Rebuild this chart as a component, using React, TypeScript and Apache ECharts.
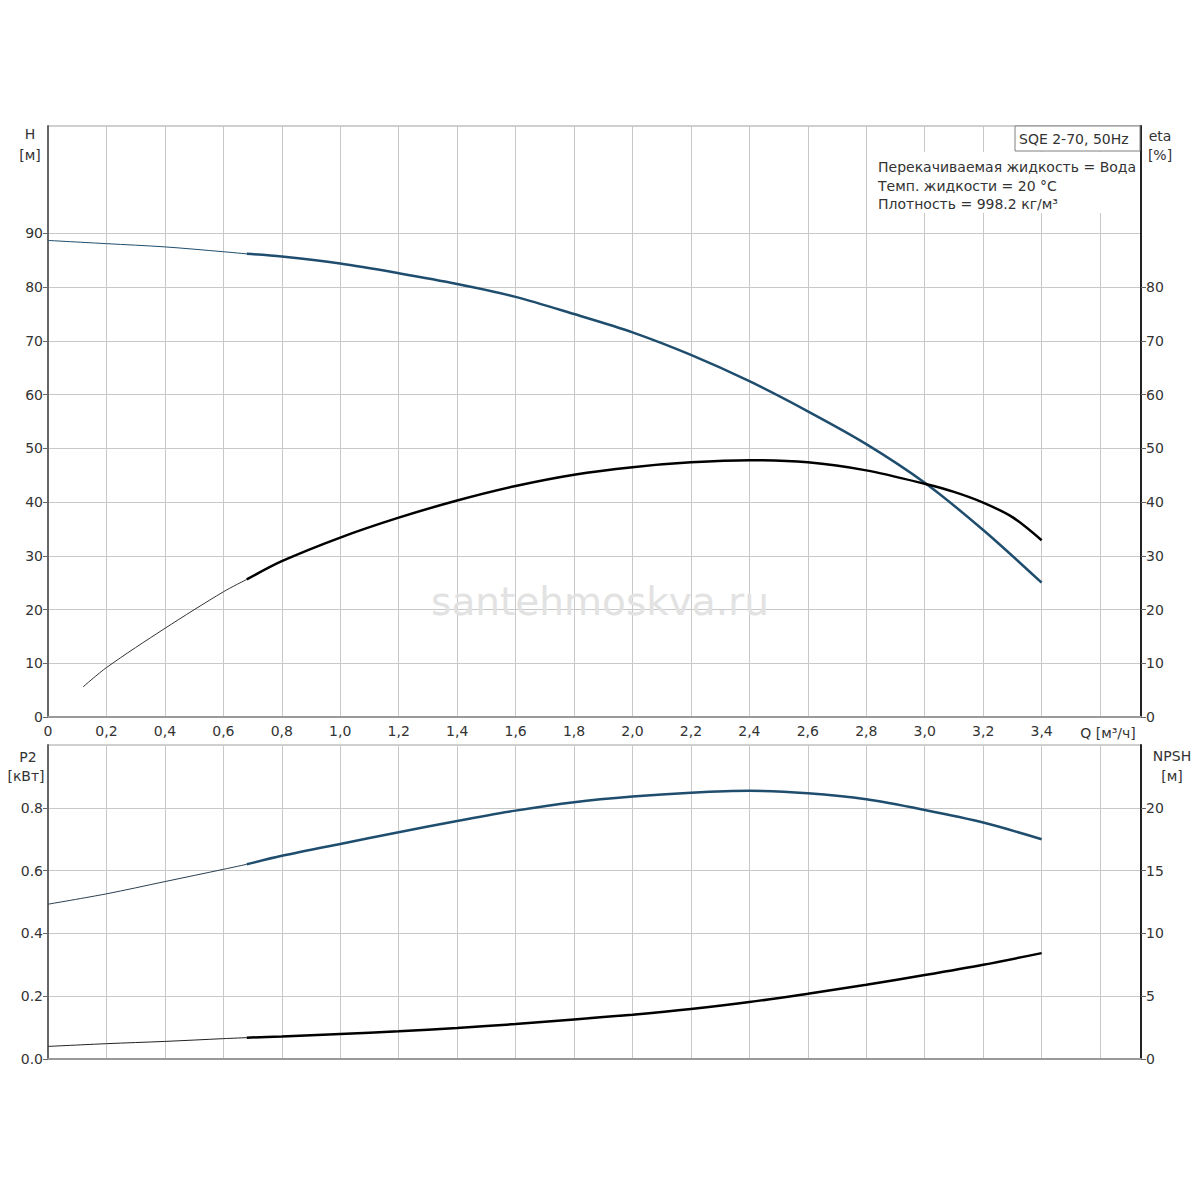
import React, { useEffect, useRef } from "react";
import * as echarts from "echarts";

// Q axis ticks
const qTicks = [0, 0.2, 0.4, 0.6, 0.8, 1.0, 1.2, 1.4, 1.6, 1.8, 2.0, 2.2, 2.4, 2.6, 2.8, 3.0, 3.2, 3.4];

// H curve (m)
const qHThin = [0, 0.2, 0.4, 0.6, 0.68];
const hThin = [88.7, 88.1, 87.5, 86.6, 86.2];
const qHMain = [0.68, 0.8, 1.0, 1.2, 1.4, 1.6, 1.8, 2.0, 2.2, 2.4, 2.6, 2.8, 3.0, 3.2, 3.4];
const hMain = [86.2, 85.7, 84.4, 82.6, 80.6, 78.2, 75.0, 71.6, 67.4, 62.5, 56.9, 50.8, 43.6, 34.8, 25.0];

// eta curve (%)
const qEtaThin = [0.12, 0.2, 0.4, 0.6, 0.68];
const etaThin = [5.6, 9.2, 16.5, 23.3, 25.6];
const qEtaMain = [0.68, 0.8, 1.0, 1.2, 1.4, 1.6, 1.8, 2.0, 2.2, 2.4, 2.6, 2.8, 3.0, 3.1, 3.2, 3.3, 3.4];
const etaMain = [25.6, 29.0, 33.4, 37.1, 40.3, 43.0, 45.1, 46.5, 47.4, 47.8, 47.4, 45.9, 43.4, 41.9, 39.9, 37.2, 32.9];

// P2 curve (kW)
const qP2Thin = [0, 0.2, 0.4, 0.6, 0.68];
const p2Thin = [0.493, 0.526, 0.565, 0.604, 0.62];
const qP2Main = [0.68, 0.8, 1.0, 1.2, 1.4, 1.6, 1.8, 2.0, 2.2, 2.4, 2.6, 2.8, 3.0, 3.2, 3.4];
const p2Main = [0.62, 0.647, 0.685, 0.722, 0.758, 0.791, 0.818, 0.836, 0.848, 0.854, 0.846, 0.827, 0.793, 0.753, 0.7];

// NPSH curve (m)
const qNpshThin = [0, 0.2, 0.4, 0.6, 0.68];
const npshThin = [1.0, 1.22, 1.4, 1.62, 1.7];
const qNpshMain = [0.68, 0.8, 1.0, 1.2, 1.4, 1.6, 1.8, 2.0, 2.2, 2.4, 2.6, 2.8, 3.0, 3.2, 3.4];
const npshMain = [1.7, 1.8, 1.99, 2.2, 2.47, 2.78, 3.15, 3.53, 3.98, 4.53, 5.2, 5.91, 6.68, 7.5, 8.43];

// Tick labels
const hLabels = [0, 10, 20, 30, 40, 50, 60, 70, 80, 90];
const etaLabels = [0, 10, 20, 30, 40, 50, 60, 70, 80];
const p2Labels = [0, 0.2, 0.4, 0.6, 0.8];
const npshLabels = [0, 5, 10, 15, 20];

const infoLines = [
  "Перекачиваемая жидкость = Вода",
  "Темп. жидкости = 20 °C",
  "Плотность = 998.2 кг/м³",
];

const BLUE = "#1f4d6e";
const BLACK = "#000000";
const GRID = "#c8c8c8";
const FONT = "'DejaVu Sans', Verdana, sans-serif";

const pairs = (xs: number[], ys: number[]) => xs.map((x, i) => [x, ys[i]]);

export default function App() {
  const ref = useRef<HTMLDivElement>(null);
  useEffect(() => {
    document.body.style.margin = "0";
    if (!ref.current) return;
    const chart = echarts.init(ref.current, undefined, { renderer: "svg" });

    const xAxisBase = (gridIndex: number, showLabels: boolean) => ({
      type: "value" as const,
      gridIndex,
      min: 0,
      max: 3.74,
      interval: 0.2,
      axisLine: { show: true, onZero: false, lineStyle: { color: "#999", width: 2 } },
      axisTick: { show: false },
      splitLine: { show: true, lineStyle: { color: GRID, width: 1 } },
      axisLabel: {
        show: showLabels,
        customValues: qTicks,
        color: "#333",
        fontSize: 14,
        fontFamily: FONT,
        margin: 7,
        formatter: (v: number) => (v === 0 ? "0" : v.toFixed(1).replace(".", ",")),
      },
    });

    const yBase = (
      gridIndex: number,
      position: "left" | "right",
      min: number,
      max: number,
      interval: number,
      labels: number[],
      split: boolean,
      lineColor: string,
      fmt?: (v: number) => string
    ) => ({
      type: "value" as const,
      gridIndex,
      position,
      min,
      max,
      interval,
      axisLine: { show: true, lineStyle: { color: lineColor, width: 2 } },
      axisTick: { show: true, customValues: labels, length: 5, lineStyle: { color: "#666" } },
      splitLine: { show: split, lineStyle: { color: GRID, width: 1 } },
      axisLabel: {
        customValues: labels,
        color: "#333",
        fontSize: 14,
        fontFamily: FONT,
        margin: 5,
        formatter: fmt || ((v: number) => String(v)),
      },
    });

    const line = (
      name: string,
      data: number[][],
      color: string,
      width: number,
      xAxisIndex: number,
      yAxisIndex: number
    ) => ({
      name,
      type: "line" as const,
      data,
      xAxisIndex,
      yAxisIndex,
      smooth: 0.3,
      symbol: "none",
      lineStyle: { color, width },
      z: 5,
    });

    const textEl = (x: number, y: number, text: string, align = "center", size = 14) => ({
      type: "text",
      x,
      y,
      z: 100,
      style: {
        text,
        fill: "#333",
        fontSize: size,
        fontFamily: FONT,
        textAlign: align,
        textVerticalAlign: "middle",
      },
    });

    chart.setOption({
      animation: false,
      backgroundColor: "#ffffff",
      textStyle: { fontFamily: FONT },
      grid: [
        { left: 48, top: 126, width: 1093, height: 591, show: true, borderColor: "#a0a0a0", borderWidth: 1, backgroundColor: "transparent" },
        { left: 48, top: 745, width: 1093, height: 314, show: true, borderColor: "#a0a0a0", borderWidth: 1, backgroundColor: "transparent" },
      ],
      xAxis: [xAxisBase(0, true), xAxisBase(1, false)],
      yAxis: [
        yBase(0, "left", 0, 110, 10, hLabels, true, "#666"),
        yBase(0, "right", 0, 110, 10, etaLabels, false, "#222"),
        yBase(1, "left", 0, 1.0, 0.2, p2Labels, true, "#666", (v: number) => v.toFixed(1)),
        yBase(1, "right", 0, 25, 5, npshLabels, false, "#222"),
      ],
      series: [
        line("H thin", pairs(qHThin, hThin), BLUE, 1, 0, 0),
        line("H", pairs(qHMain, hMain), BLUE, 2.5, 0, 0),
        line("eta thin", pairs(qEtaThin, etaThin), "#333", 1, 0, 1),
        line("eta", pairs(qEtaMain, etaMain), BLACK, 2.5, 0, 1),
        line("P2 thin", pairs(qP2Thin, p2Thin), "#2a3f50", 1, 1, 2),
        line("P2", pairs(qP2Main, p2Main), BLUE, 2.5, 1, 2),
        line("NPSH thin", pairs(qNpshThin, npshThin), "#222", 1, 1, 3),
        line("NPSH", pairs(qNpshMain, npshMain), BLACK, 2.5, 1, 3),
      ],
      graphic: [
        {
          type: "text",
          x: 600,
          y: 601,
          z: 1,
          style: {
            text: "santehmoskva.ru",
            fill: "#e2e2e2",
            fontSize: 39,
            fontFamily: FONT,
            textAlign: "center",
            textVerticalAlign: "middle",
          },
        },
        {
          type: "rect",
          z: 90,
          shape: { x: 870, y: 152, width: 270, height: 61 },
          style: { fill: "#ffffff" },
        },
        {
          type: "rect",
          z: 95,
          shape: { x: 1015, y: 126, width: 125, height: 25 },
          style: { fill: "#ffffff", stroke: "#808080", lineWidth: 1 },
        },
        textEl(1019, 139, "SQE 2-70, 50Hz", "left"),
        textEl(878, 167, infoLines[0], "left"),
        textEl(878, 186, infoLines[1], "left"),
        textEl(878, 204, infoLines[2], "left"),
        textEl(30, 134, "H"),
        textEl(30, 155, "[м]"),
        textEl(1160, 136, "eta"),
        textEl(1160, 155, "[%]"),
        textEl(1108, 733, "Q [м³/ч]"),
        textEl(28, 757, "P2"),
        textEl(26, 776, "[кВт]"),
        textEl(1172, 756, "NPSH"),
        textEl(1172, 776, "[м]"),
      ],
    });
    return () => chart.dispose();
  }, []);
  return <div ref={ref} style={{ width: 1200, height: 1200 }} />;
}
